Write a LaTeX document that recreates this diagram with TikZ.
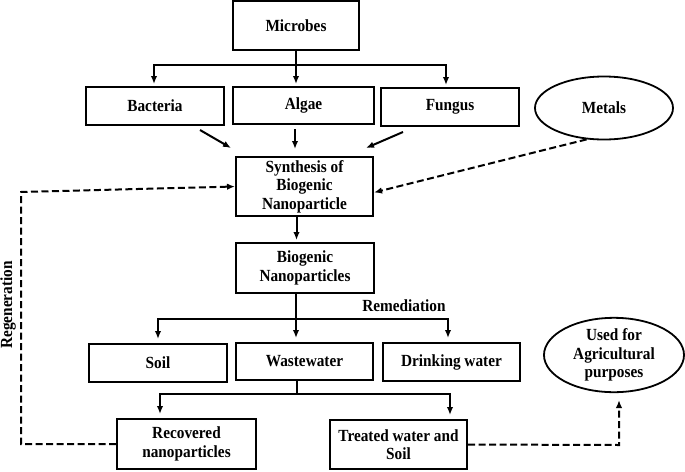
\documentclass[tikz,border=0pt]{standalone}
\usepackage{fontspec}
\setmainfont{Liberation Serif}[FakeStretch=0.9]
\usetikzlibrary{arrows.meta,shapes.geometric}
\tikzset{
  txt/.style={font=\bfseries\fontsize{17}{18.5}\selectfont, align=center, inner sep=0pt},
  box/.style={txt, draw, line width=2pt, rectangle},
  oval/.style={txt, draw, line width=1.8pt, ellipse},
  conn/.style={line width=2pt},
  arr/.style={conn, -{Latex[length=8pt,width=6.5pt]}},
  dsh/.style={line width=2pt, dash pattern=on 7pt off 3.5pt},
  darr/.style={dsh, -{Latex[length=8pt,width=6.5pt]}}
}
\begin{document}
\begin{tikzpicture}[x=1pt,y=-1pt]
\useasboundingbox (0,0) rectangle (685,471);
% nodes
\node[box, minimum width=126pt, minimum height=48.5pt] (mic) at (296,25.7) {Microbes};
\node[box, minimum width=138pt, minimum height=38pt] (bac) at (155,106) {Bacteria};
\node[box, minimum width=141pt, minimum height=37pt] (alg) at (303.5,105.5) {Algae};
\node[box, minimum width=138pt, minimum height=38pt] (fun) at (450,107) {Fungus};
\node[oval, minimum width=138pt, minimum height=63pt] (met) at (604,108) {Metals};
\node[box, minimum width=137pt, minimum height=59pt] (syn) at (304.5,186.5) {Synthesis of\\Biogenic\\Nanoparticle};
\node[box, minimum width=138pt, minimum height=50pt] (bio) at (305,268) {Biogenic\\Nanoparticles};
\node[txt] (rem) at (404,306) {Remediation};
\node[box, minimum width=138pt, minimum height=38pt] (soil) at (158,363) {Soil};
\node[box, minimum width=137pt, minimum height=37pt] (ww) at (304.5,361.5) {Wastewater};
\node[box, minimum width=137pt, minimum height=38pt] (dw) at (451.5,362) {Drinking water};
\node[oval, minimum width=140pt, minimum height=70pt] (used) at (614,355) {Used for\\Agricultural\\purposes};
\node[box, minimum width=139pt, minimum height=50pt] (rec) at (186.5,444) {Recovered\\nanoparticles};
\node[box, minimum width=137pt, minimum height=49pt] (tre) at (398.5,444.5) {Treated water and\\Soil};
\node[txt, rotate=90] (reg) at (8,305) {Regeneration};
% microbes bus
\coordinate (j1) at (296,65);
\draw[conn] (j1 |- mic.south) -- (j1);
\draw[arr, shorten >=2pt] (j1) -| ([xshift=-1pt]bac.north);
\draw[arr, shorten >=2pt] (j1) -- (j1 |- alg.north);
\draw[arr, shorten >=2pt] (j1) -| ([xshift=-4pt]fun.north);
% to synthesis
\coordinate (d1a) at (200,130); \coordinate (d1b) at (231,148);
\coordinate (d2a) at (295,129); \coordinate (d2b) at (295,149);
\coordinate (d3a) at (403,132); \coordinate (d3b) at (366,148);
\draw[arr] (d1a) -- (d1b);
\draw[arr] (d2a) -- (d2b);
\draw[arr] (d3a) -- (d3b);
\draw[darr] (met.-119) -- ([yshift=-6pt]syn.east);
% synthesis to biogenic
\draw[arr, shorten >=2pt] ([xshift=-8pt]syn.south) -- ([xshift=-8pt]syn.south |- bio.north);
% remediation bus
\coordinate (j2) at (296,319);
\draw[conn] (j2 |- bio.south) -- (j2);
\draw[arr, shorten >=4pt] (j2) -| (soil.north);
\draw[arr, shorten >=4pt] (j2) -- (j2 |- ww.north);
\draw[arr, shorten >=4pt] (j2) -| ([xshift=-3.5pt]dw.north);
% wastewater bus
\coordinate (j3) at (297,394);
\draw[conn] (j3 |- ww.south) -- (j3);
\draw[arr, shorten >=4pt] (j3) -| ([xshift=-26.5pt]rec.north);
\draw[arr, shorten >=4pt] (j3) -| ([xshift=51.5pt]tre.north);
% regeneration loop
\coordinate (r1) at (21,444);
\coordinate (r2) at (21,192);
\draw[darr] (rec.west) -- (r1) -- (r2) -- (syn.west);
% to agricultural use
\coordinate (u1) at (619,445);
\draw[darr, shorten >=7pt] (tre.east) -- (u1) -- (u1 |- used.south);
\end{tikzpicture}
\end{document}
